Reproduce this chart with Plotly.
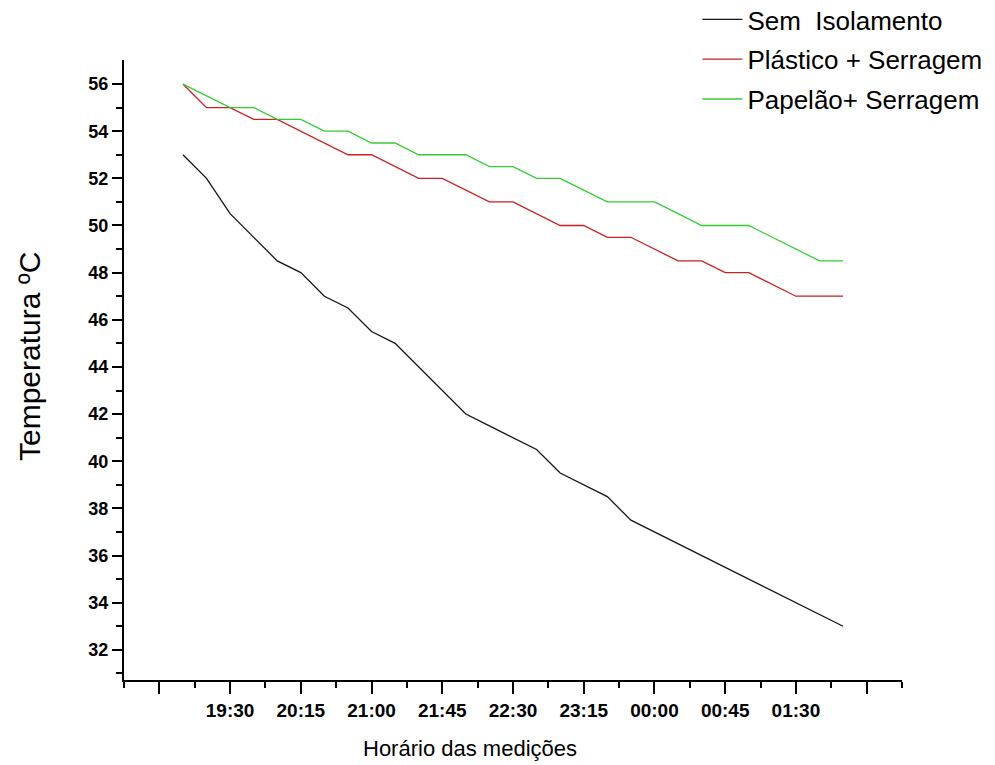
import plotly.graph_objects as go

# ---- data ----
times = ["19:00", "19:15", "19:30", "19:45", "20:00", "20:15", "20:30", "20:45",
         "21:00", "21:15", "21:30", "21:45", "22:00", "22:15", "22:30", "22:45",
         "23:00", "23:15", "23:30", "23:45", "00:00", "00:15", "00:30", "00:45",
         "01:00", "01:15", "01:30", "01:45", "02:00"]

sem_isolamento = [53, 52, 50.5, 49.5, 48.5, 48, 47, 46.5, 45.5, 45, 44, 43, 42, 41.5,
                  41, 40.5, 39.5, 39, 38.5, 37.5, 37, 36.5, 36, 35.5, 35, 34.5, 34,
                  33.5, 33]
plastico_serragem = [56, 55, 55, 54.5, 54.5, 54, 53.5, 53, 53, 52.5, 52, 52, 51.5,
                     51, 51, 50.5, 50, 50, 49.5, 49.5, 49, 48.5, 48.5, 48, 48, 47.5,
                     47, 47, 47]
papelao_serragem = [56, 55.5, 55, 55, 54.5, 54.5, 54, 54, 53.5, 53.5, 53, 53, 53,
                    52.5, 52.5, 52, 52, 51.5, 51, 51, 51, 50.5, 50, 50, 50, 49.5, 49,
                    48.5, 48.5]

tick_labels = ["19:30", "20:15", "21:00", "21:45", "22:30", "23:15", "00:00",
               "00:45", "01:30"]
series_names = ["Sem  Isolamento", "Plástico + Serragem", "Papelão+ Serragem"]
x_title = "Horário das medições"
y_title = "Temperatura ºC"


def to_min(t):
    h, m = map(int, t.split(":"))
    if h < 12:
        h += 24
    return (h - 19) * 60 + m


x = [to_min(t) for t in times]
tick_pos = [to_min(t) for t in tick_labels]
step = tick_pos[1] - tick_pos[0]
major_vals = [tick_pos[0] - step] + tick_pos + [tick_pos[-1] + step]
major_text = [""] + tick_labels + [""]
minor_vals = [v + step / 2 for v in [major_vals[0] - step] + major_vals]

fig = go.Figure()
colors = ["#151515", "#c82020", "#33cc33"]
for name, ys, c in zip(series_names,
                       [sem_isolamento, plastico_serragem, papelao_serragem],
                       colors):
    fig.add_trace(go.Scatter(x=x, y=ys, mode="lines", name=name, legendgroup=name,
                             line=dict(color=c, width=1.3)))

xtick_font = dict(family="Liberation Sans", size=19, color="black", weight="bold")
ytick_font = dict(family="Liberation Sans", size=18, color="black", weight="bold")

fig.update_layout(
    width=995, height=765,
    margin=dict(l=124, r=93, t=60, b=85, autoexpand=False),
    paper_bgcolor="white", plot_bgcolor="white",
    font=dict(family="Liberation Sans", color="black"),
    legend=dict(x=0.737, y=1.1032, xanchor="left", yanchor="top",
                font=dict(size=26), bgcolor="rgba(0,0,0,0)",
                tracegroupgap=3, itemwidth=40),
    xaxis=dict(range=[minor_vals[0], minor_vals[-1]], showgrid=False, zeroline=False,
               showline=True, linecolor="black", linewidth=2,
               tickmode="array", tickvals=major_vals, ticktext=major_text,
               ticks="outside", ticklen=12, tickwidth=2, tickcolor="black",
               tickfont=xtick_font,
               minor=dict(tickmode="array", tickvals=minor_vals, ticks="outside",
                          ticklen=6, tickwidth=2, tickcolor="black")),
    yaxis=dict(range=[30.72, 57.02], showgrid=False, zeroline=False,
               showline=True, linecolor="black", linewidth=2,
               tickmode="array", tickvals=list(range(32, 57, 2)),
               ticks="outside", ticklen=10, tickwidth=2, tickcolor="black",
               tickfont=ytick_font,
               minor=dict(tickmode="array", tickvals=list(range(31, 57, 2)),
                          ticks="outside", ticklen=6, tickwidth=2, tickcolor="black")),
    annotations=[
        dict(text=x_title, xref="paper", yref="paper", x=0.4447, y=-0.1097,
             xanchor="center", yanchor="middle", showarrow=False,
             font=dict(size=22, color="black")),
        dict(text=y_title, xref="paper", yref="paper", x=-0.1208, y=0.521,
             xanchor="center", yanchor="middle", showarrow=False, textangle=-90,
             font=dict(size=30, color="black")),
    ],
)

fig.write_html("out.html")
